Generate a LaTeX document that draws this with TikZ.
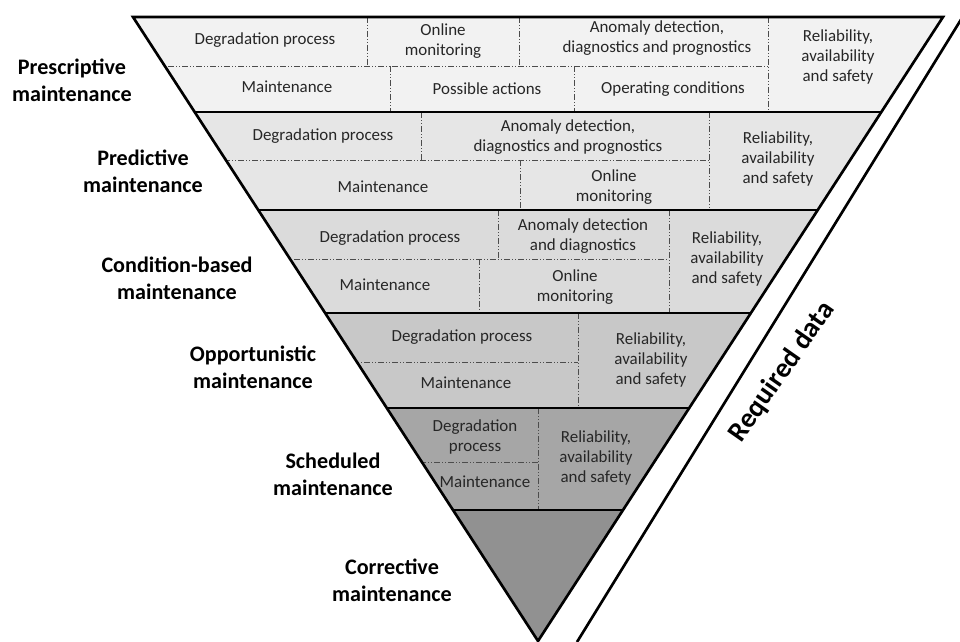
\documentclass[tikz,border=0pt]{standalone}
\usepackage{fontspec}
\setmainfont{Carlito}
\usetikzlibrary{arrows.meta}

\definecolor{bandA}{RGB}{242,242,242}
\definecolor{bandB}{RGB}{230,230,230}
\definecolor{bandC}{RGB}{219,219,219}
\definecolor{bandD}{RGB}{200,200,200}
\definecolor{bandE}{RGB}{166,166,166}
\definecolor{bandF}{RGB}{145,145,145}

\tikzset{
  cell/.style={align=center, inner sep=0.75pt, text=black!85, font=\fontsize{12.7}{15.3}\selectfont},
  lvl/.style={align=center, inner sep=0.75pt, font=\bfseries\fontsize{16.6}{20.2}\selectfont},
  sep/.style={line width=0.6pt, color=black!70, dash pattern=on 4.5pt off 1.5pt on 0.75pt off 1.5pt on 0.75pt off 1.5pt},
  bandline/.style={line width=2pt},
}

\begin{document}
\begin{tikzpicture}[x=0.75pt,y=0.75pt,yscale=-1,xscale=1]
\useasboundingbox (0,0) rectangle (960,642);

% Bands of the pyramid
\begin{scope}
\clip (133,17) -- (943,17) -- (538,641) -- cycle;
\fill[bandA] (0,17) rectangle (960,112);
\fill[bandB] (0,112) rectangle (960,210);
\fill[bandC] (0,210) rectangle (960,313);
\fill[bandD] (0,313) rectangle (960,408);
\fill[bandE] (0,408) rectangle (960,510);
\fill[bandF] (0,510) rectangle (960,645);

% Dividers inside the bands
\draw[sep] (0,66) -- (768,66);
\draw[sep] (367,17) -- (367,66);
\draw[sep] (519,17) -- (519,66);
\draw[sep] (768,17) -- (768,112);
\draw[sep] (390,66) -- (390,112);
\draw[sep] (574,66) -- (574,112);

\draw[sep] (0,160) -- (709,160);
\draw[sep] (421,112) -- (421,160);
\draw[sep] (709,112) -- (709,210);
\draw[sep] (520,160) -- (520,210);

\draw[sep] (0,259) -- (669,259);
\draw[sep] (498,210) -- (498,259);
\draw[sep] (669,210) -- (669,313);
\draw[sep] (479,259) -- (479,313);

\draw[sep] (0,362) -- (578,362);
\draw[sep] (578,313) -- (578,408);

\draw[sep] (0,462) -- (538,462);
\draw[sep] (538,408) -- (538,510);

% Thick band borders
\foreach \yy in {112,210,313,408,510}
  \draw[bandline] (0,\yy) -- (960,\yy);
\end{scope}
\draw[bandline, line join=miter] (133,17) -- (943,17) -- (538,641) -- cycle;

% Text Node: prescriptive
\node[cell] (pDeg) at (265,40) {Degradation process};
\node[cell] (pOnl) at (443,41) {Online\\monitoring};
\node[cell] (pAno) at (657,38) {Anomaly detection,\\diagnostics and prognostics};
\node[cell] (pRel) at (838,57) {Reliability,\\availability\\and safety};
\node[cell] (pMai) at (287,87) {Maintenance};
\node[cell] (pPos) at (487,89) {Possible actions};
\node[cell] (pOpe) at (673,89) {Operating conditions};

% Text Node: predictive
\node[cell] (dDeg) at (323,136) {Degradation process};
\node[cell] (dAno) at (568,137) {Anomaly detection,\\diagnostics and prognostics};
\node[cell] (dRel) at (778,159) {Reliability,\\availability\\and safety};
\node[cell] (dMai) at (383,187) {Maintenance};
\node[cell] (dOnl) at (614,187) {Online\\monitoring};

% Text Node: condition-based
\node[cell] (cDeg) at (390,238) {Degradation process};
\node[cell] (cAno) at (583,236) {Anomaly detection\\and diagnostics};
\node[cell] (cRel) at (727,259) {Reliability,\\availability\\and safety};
\node[cell] (cMai) at (385,285) {Maintenance};
\node[cell] (cOnl) at (575,287) {Online\\monitoring};

% Text Node: opportunistic
\node[cell] (oDeg) at (462,337) {Degradation process};
\node[cell] (oMai) at (466,383) {Maintenance};
\node[cell] (oRel) at (651,360) {Reliability,\\availability\\and safety};

% Text Node: scheduled
\node[cell] (sDeg) at (475,437) {Degradation\\process};
\node[cell] (sMai) at (485,482) {Maintenance};
\node[cell] (sRel) at (596,458) {Reliability,\\availability\\and safety};

% Level labels
\node[lvl] (lPre) at (72,80) {Prescriptive\\maintenance};
\node[lvl] (lPrd) at (143,171) {Predictive\\maintenance};
\node[lvl] (lCon) at (177,278) {Condition-based\\maintenance};
\node[lvl] (lOpp) at (253,367) {Opportunistic\\maintenance};
\node[lvl] (lSch) at (333,474) {Scheduled\\maintenance};
\node[lvl] (lCor) at (392,580) {Corrective\\maintenance};

% Required data arrow
\coordinate (rdFoot) at (577,642);
\coordinate (rdTip) at (978,-8);
\draw[line width=2pt, -{Latex[length=12pt,width=11pt]}] (rdFoot) -- (rdTip);
\node[lvl, font=\bfseries\fontsize{21}{25}\selectfont, rotate=55] (rdLab) at (782,372) {Required data};

\end{tikzpicture}
\end{document}
